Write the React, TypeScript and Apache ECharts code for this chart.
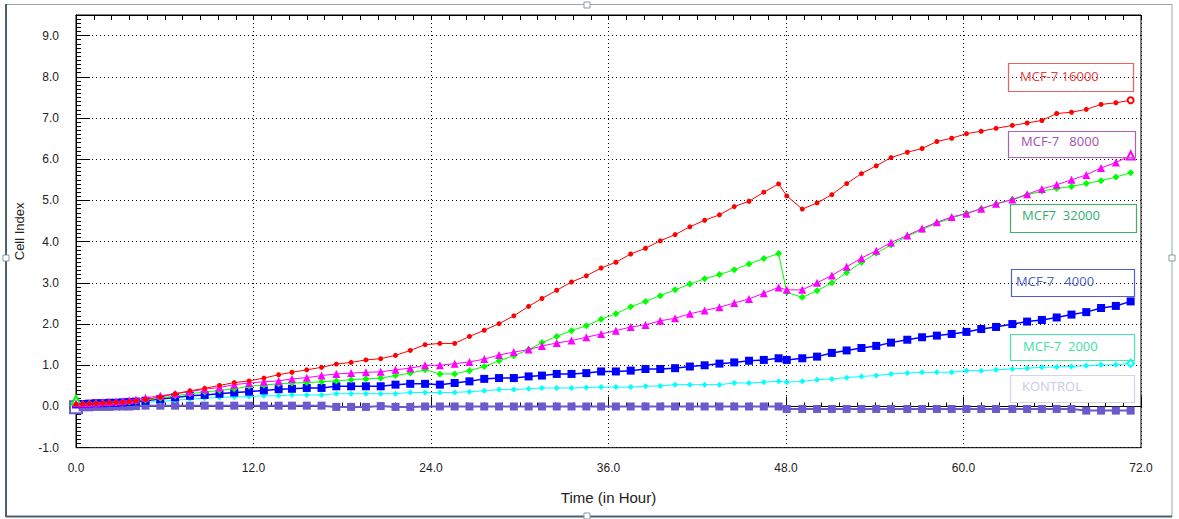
import React, { useEffect, useRef } from 'react';
import * as echarts from 'echarts';

// Time points (hours)
const times = [
  0, 0.45, 0.9, 1.35, 1.8, 2.25, 2.7, 3.15, 3.6, 4.05,
  4.7, 5.7, 6.7, 7.7, 8.7, 9.7, 10.7, 11.7, 12.7, 13.7,
  14.6, 15.6, 16.6, 17.6, 18.6, 19.6, 20.6, 21.6, 22.6, 23.6, 24.6, 25.6, 26.6, 27.6, 28.6, 29.6, 30.6,
  31.5, 32.5, 33.5, 34.5, 35.5, 36.5, 37.5, 38.5, 39.5, 40.5, 41.5, 42.5, 43.5, 44.5, 45.5, 46.5, 47.5,
  48.05, 49.1, 50.1, 51.1, 52.1, 53.1, 54.1, 55.1, 56.2, 57.2, 58.2, 59.2, 60.2, 61.2, 62.2, 63.3, 64.3,
  65.3, 66.3, 67.3, 68.3, 69.3, 70.3, 71.3,
];

const mcf16000 = [
  0.05, 0.06, 0.07, 0.07, 0.08, 0.09, 0.10, 0.10, 0.12, 0.14,
  0.17, 0.23, 0.31, 0.38, 0.44, 0.51, 0.58, 0.62, 0.69, 0.77,
  0.83, 0.89, 0.95, 1.03, 1.07, 1.13, 1.16, 1.24, 1.36, 1.50, 1.53, 1.53, 1.70, 1.85, 2.01, 2.20, 2.43,
  2.62, 2.82, 3.02, 3.17, 3.36, 3.50, 3.70, 3.84, 4.02, 4.17, 4.36, 4.52, 4.65, 4.85, 4.98, 5.20, 5.40,
  5.11, 4.79, 4.94, 5.14, 5.41, 5.65, 5.84, 6.04, 6.17, 6.26, 6.43, 6.51, 6.62, 6.68, 6.75, 6.82, 6.88,
  6.94, 7.11, 7.14, 7.21, 7.33, 7.37, 7.43,
];

const mcf8000 = [
  0.08, 0.07, 0.08, 0.09, 0.10, 0.11, 0.12, 0.13, 0.15, 0.17,
  0.21, 0.26, 0.31, 0.36, 0.42, 0.46, 0.53, 0.57, 0.60, 0.62,
  0.67, 0.70, 0.75, 0.79, 0.81, 0.83, 0.84, 0.89, 0.93, 1.00, 1.00, 1.04, 1.08, 1.15, 1.25, 1.32, 1.38,
  1.47, 1.54, 1.60, 1.68, 1.76, 1.84, 1.93, 1.98, 2.08, 2.14, 2.25, 2.33, 2.41, 2.51, 2.61, 2.75, 2.89,
  2.83, 2.83, 3.00, 3.18, 3.39, 3.60, 3.78, 3.98, 4.15, 4.32, 4.47, 4.60, 4.68, 4.80, 4.92, 5.02, 5.15,
  5.28, 5.38, 5.50, 5.62, 5.79, 5.92, 6.09,
];

const mcf32000 = [
  0.15, 0.06, 0.07, 0.07, 0.08, 0.08, 0.09, 0.10, 0.11, 0.13,
  0.16, 0.20, 0.26, 0.31, 0.35, 0.39, 0.43, 0.49, 0.52, 0.55,
  0.57, 0.58, 0.60, 0.62, 0.65, 0.67, 0.69, 0.75, 0.81, 0.89, 0.79, 0.79, 0.87, 0.97, 1.11, 1.23, 1.38,
  1.55, 1.70, 1.84, 1.96, 2.12, 2.25, 2.42, 2.55, 2.69, 2.83, 2.97, 3.10, 3.20, 3.32, 3.46, 3.59, 3.71,
  2.77, 2.65, 2.81, 3.00, 3.25, 3.50, 3.72, 3.92, 4.13, 4.29, 4.45, 4.57, 4.69, 4.80, 4.91, 5.02, 5.13,
  5.23, 5.29, 5.34, 5.41, 5.48, 5.57, 5.67,
];

const mcf4000 = [
  0.05, 0.06, 0.07, 0.08, 0.08, 0.09, 0.09, 0.10, 0.11, 0.12,
  0.14, 0.18, 0.22, 0.26, 0.28, 0.31, 0.34, 0.36, 0.39, 0.42,
  0.43, 0.45, 0.45, 0.49, 0.49, 0.49, 0.49, 0.53, 0.55, 0.55, 0.53, 0.57, 0.61, 0.67, 0.69, 0.69, 0.73,
  0.75, 0.79, 0.79, 0.81, 0.85, 0.85, 0.87, 0.91, 0.91, 0.93, 0.97, 1.00, 1.04, 1.07, 1.11, 1.13, 1.17,
  1.13, 1.17, 1.21, 1.30, 1.36, 1.42, 1.47, 1.55, 1.62, 1.68, 1.72, 1.76, 1.81, 1.88, 1.93, 2.00, 2.06,
  2.10, 2.16, 2.23, 2.29, 2.39, 2.44, 2.55,
];

const mcf2000 = [
  0.02, 0.03, 0.04, 0.05, 0.05, 0.06, 0.06, 0.07, 0.08, 0.09,
  0.10, 0.12, 0.15, 0.18, 0.20, 0.22, 0.23, 0.24, 0.26, 0.26,
  0.28, 0.28, 0.28, 0.31, 0.31, 0.31, 0.31, 0.31, 0.34, 0.34, 0.34, 0.34, 0.36, 0.38, 0.41, 0.41, 0.43,
  0.45, 0.45, 0.45, 0.46, 0.47, 0.47, 0.47, 0.49, 0.50, 0.53, 0.53, 0.53, 0.53, 0.57, 0.57, 0.59, 0.61,
  0.59, 0.61, 0.65, 0.67, 0.70, 0.73, 0.75, 0.79, 0.81, 0.83, 0.83, 0.83, 0.87, 0.87, 0.89, 0.91, 0.93,
  0.95, 0.96, 0.97, 0.99, 1.01, 1.01, 1.05,
];

const kontrol = [
  -0.02, -0.02, -0.02, -0.01, -0.01, -0.01, 0.0, 0.0, 0.0, 0.01,
  0.02, 0.02, 0.02, 0.02, 0.02, 0.02, 0.02, 0.02, 0.02, 0.02,
  0.02, 0.02, 0.02, -0.01, -0.01, -0.01, 0.01, -0.01, -0.01, 0.0, 0.0, 0.0, 0.0, 0.0, 0.0, 0.0, 0.0,
  0.0, 0.0, 0.0, 0.0, 0.0, 0.0, 0.0, 0.0, 0.0, 0.0, 0.0, 0.0, 0.0, 0.0, 0.0, 0.0, 0.0,
  -0.06, -0.06, -0.06, -0.06, -0.06, -0.06, -0.06, -0.06, -0.06, -0.06, -0.06, -0.06, -0.06, -0.06, -0.06, -0.06, -0.06,
  -0.06, -0.06, -0.06, -0.10, -0.10, -0.10, -0.10,
];

const seriesNames = ['MCF-7 16000', 'MCF-7   8000', 'MCF7  32000', 'MCF-7   4000', 'MCF-7  2000', 'KONTROL'];
const xLabelStep = 12;
const yLabelStep = 1;

const lineColors = ['#ff0000', '#ff00ff', '#00ff00', '#0000ff', '#00ffff', '#6a5acd'];
const legendBorder = ['#f06060', '#b060b8', '#40b060', '#5060c8', '#40eaa8', '#d4d4ee'];
const legendText = ['#e83c3c', '#a050b0', '#30b070', '#5060c0', '#40e0a0', '#c8c8e8'];
const legendBoxes = [
  { x: 1008, y: 63, w: 125, h: 28, tx: 1020, ty: 76 },
  { x: 1008, y: 131, w: 127, h: 26, tx: 1021, ty: 141 },
  { x: 1010, y: 204, w: 126, h: 28, tx: 1022, ty: 215 },
  { x: 1011, y: 269, w: 123, h: 27, tx: 1016, ty: 281 },
  { x: 1010, y: 334, w: 124, h: 26, tx: 1023, ty: 346 },
  { x: 1010, y: 375, w: 124, h: 27, tx: 1022, ty: 386 },
];

function buildData(vals: number[], opts: { first?: any; last?: any }) {
  return times.map((t, i) => {
    const item: any = { value: [t, vals[i]] };
    if (i === 0 && opts.first) Object.assign(item, opts.first);
    if (i === times.length - 1 && opts.last) Object.assign(item, opts.last);
    return item;
  });
}

export default function App() {
  const ref = useRef<HTMLDivElement>(null);
  useEffect(() => {
    if (!ref.current) return;
    const chart = echarts.init(ref.current, undefined, { renderer: 'svg' });
    const font = "'Liberation Sans', Arial, sans-serif";

    const mk = (idx: number, vals: number[], symbol: string, size: number, width: number, opts: any) => ({
      name: seriesNames[idx],
      type: 'line',
      data: buildData(vals, opts),
      symbol,
      symbolSize: size,
      showSymbol: true,
      lineStyle: { color: lineColors[idx], width },
      itemStyle: { color: lineColors[idx] },
      z: 10 - idx,
    });

    const graphics: any[] = [];
    // outer frame
    graphics.push(
      { type: 'line', shape: { x1: 6, y1: 4.5, x2: 1172, y2: 4.5 }, style: { stroke: '#9aa4ae', lineWidth: 1 } },
      { type: 'line', shape: { x1: 1172, y1: 4, x2: 1172, y2: 517 }, style: { stroke: '#9aa4ae', lineWidth: 1 } },
      { type: 'line', shape: { x1: 6, y1: 4, x2: 6, y2: 517 }, style: { stroke: '#4d6070', lineWidth: 2 } },
      { type: 'line', shape: { x1: 6, y1: 516.5, x2: 1172, y2: 516.5 }, style: { stroke: '#4d6070', lineWidth: 2 } },
    );
    [[584, 2], [3, 255], [1169, 255], [584, 513]].forEach(([x, y]) => {
      graphics.push({ type: 'rect', shape: { x, y, width: 6, height: 6 }, style: { fill: '#ffffff', stroke: '#8898a8', lineWidth: 1 } });
    });
    legendBoxes.forEach((b, i) => {
      graphics.push({
        type: 'rect', z: 100,
        shape: { x: b.x + 0.5, y: b.y + 0.5, width: b.w, height: b.h },
        style: { fill: 'transparent', stroke: legendBorder[i], lineWidth: 1.2 },
      });
      graphics.push({
        type: 'text', z: 101, x: b.tx, y: b.ty,
        style: {
          text: seriesNames[i], fill: legendText[i], font: "13px 'Open Sans', sans-serif",
          textVerticalAlign: 'middle', verticalAlign: 'middle',
        },
      });
    });

    chart.setOption({
      animation: false,
      backgroundColor: '#ffffff',
      grid: { left: 76, top: 15, width: 1065, height: 432.7, show: true, borderColor: '#000', borderWidth: 1, backgroundColor: '#fff' },
      xAxis: [
        {
          type: 'value', min: 0, max: 72, interval: xLabelStep, position: 'bottom',
          name: 'Time (in Hour)', nameLocation: 'middle', nameGap: 42,
          nameTextStyle: { fontFamily: font, fontSize: 15, color: '#222' },
          axisLine: { show: true, lineStyle: { color: '#000', width: 1 } },
          axisTick: { show: true, inside: true, length: 10, lineStyle: { color: '#000' } },
          minorTick: { show: true, splitNumber: 10, length: 4, lineStyle: { color: '#000' } },
          axisLabel: { formatter: (v: number) => v.toFixed(1), color: '#222', fontFamily: font, fontSize: 12, margin: 14 },
          splitLine: { show: true, lineStyle: { color: '#000', type: [1, 3], width: 1 } },
        },
        {
          type: 'value', min: 0, max: 72, interval: xLabelStep, position: 'top',
          axisLine: { show: true, lineStyle: { color: '#000', width: 1 } },
          axisTick: { show: true, inside: true, length: 5, lineStyle: { color: '#000' } },
          minorTick: { show: true, splitNumber: 10, length: 5, lineStyle: { color: '#000' } },
          axisLabel: { show: false },
          splitLine: { show: false },
        },
      ],
      yAxis: {
        type: 'value', min: -1, max: 9.5, interval: yLabelStep,
        name: 'Cell Index', nameLocation: 'middle', nameGap: 50,
        nameTextStyle: { fontFamily: font, fontSize: 13, color: '#222' },
        axisLine: { show: true, lineStyle: { color: '#000', width: 1 } },
        axisTick: { show: true, inside: true, length: 14, lineStyle: { color: '#000' } },
        minorTick: { show: true, splitNumber: 10, length: 5, lineStyle: { color: '#000' } },
        axisLabel: {
          formatter: (v: number) => (Math.abs(v - Math.round(v)) < 1e-6 ? v.toFixed(1) : ''),
          color: '#222', fontFamily: font, fontSize: 12, margin: 17,
        },
        splitLine: { show: true, lineStyle: { color: '#000', type: [1, 3], width: 1 } },
      },
      graphic: graphics,
      series: [
        mk(5, kontrol, 'rect', 8, 2, { first: { symbol: 'emptyRect', symbolSize: 12 } }),
        mk(4, mcf2000, 'diamond', 6, 1, { last: { symbol: 'emptyDiamond', symbolSize: 7 } }),
        mk(3, mcf4000, 'rect', 8, 1.5, {}),
        mk(2, mcf32000, 'diamond', 7, 1, { first: { symbol: 'emptyTriangle', symbolSize: 9 } }),
        mk(1, mcf8000, 'triangle', 8, 1, { last: { symbol: 'emptyTriangle', symbolSize: 8 } }),
        mk(0, mcf16000, 'circle', 5, 1, { last: { symbol: 'emptyCircle', symbolSize: 6 } }),
      ],
    });
    return () => chart.dispose();
  }, []);
  return <div ref={ref} style={{ position: 'absolute', left: 0, top: 0, width: 1179, height: 519, background: '#fff' }} />;
}
